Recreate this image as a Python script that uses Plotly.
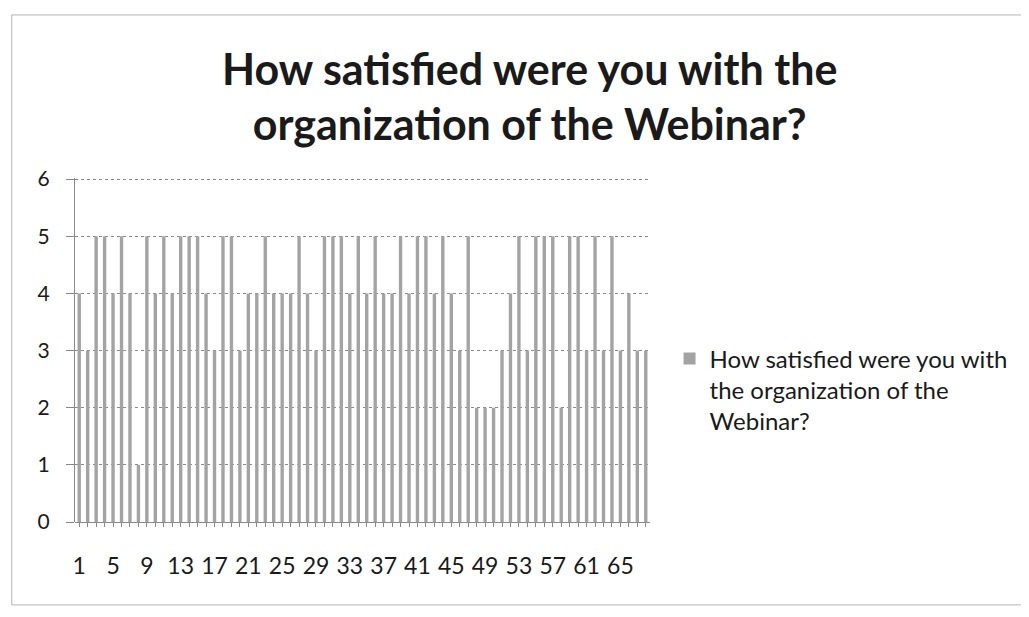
import plotly.graph_objects as go

categories = list(range(1, 69))
values = [4, 3, 5, 5, 4, 5, 4, 1, 5, 4, 5, 4, 5, 5, 5, 4, 3, 5, 5, 3,
          4, 4, 5, 4, 4, 4, 5, 4, 3, 5, 5, 5, 4, 5, 4, 5, 4, 4, 5, 4,
          5, 5, 4, 5, 4, 3, 5, 2, 2, 2, 3, 4, 5, 3, 5, 5, 5, 2, 5, 5,
          3, 5, 3, 5, 3, 4, 3, 3]
x_tick_labels = [str(c) if (c - 1) % 4 == 0 else "" for c in categories]
y_ticks = [0, 1, 2, 3, 4, 5, 6]
series_name = "How satisfied were you with<br>the organization of the<br>Webinar?"
title_text = "How satisfied were you with the<br>organization of the Webinar?"

FONT = "Lato, 'Open Sans', sans-serif"

fig = go.Figure()
fig.add_trace(go.Bar(
    x=categories,
    y=values,
    name=series_name,
    marker=dict(color="#a3a3a3", line=dict(width=0)),
    showlegend=True,
))

fig.update_layout(
    width=1029,
    height=617,
    paper_bgcolor="white",
    plot_bgcolor="white",
    margin=dict(l=67, r=387, t=170, b=103),
    bargap=0.6,
    font=dict(family=FONT, color="#1a1a1a"),
    title=dict(
        text="<b>" + title_text + "</b>",
        x=0.507, xanchor="center",
        y=0.876, yanchor="middle",
        font=dict(size=43, family=FONT, color="#1a1a1a"),
    ),
    legend=dict(
        x=1.034, xanchor="left",
        y=0.384, yanchor="middle",
        valign="top",
        font=dict(size=24, family=FONT, color="#1a1a1a"),
        bgcolor="rgba(0,0,0,0)",
        itemwidth=30,
    ),
    xaxis=dict(
        tickmode="array",
        tickvals=categories,
        ticktext=x_tick_labels,
        ticks="outside",
        ticklen=4,
        tickcolor="#888",
        tickfont=dict(size=23, family=FONT, color="#1a1a1a"),
        ticklabelstandoff=19,
        showgrid=False,
        showline=False,
        zeroline=False,
        range=[0.5, 68.5],
    ),
    yaxis=dict(
        range=[0, 6.02],
        tickmode="array",
        tickvals=y_ticks,
        ticks="outside",
        ticklen=8,
        tickcolor="#888",
        tickfont=dict(size=21, family=FONT, color="#1a1a1a"),
        ticklabelstandoff=12,
        showgrid=True,
        gridcolor="#8a8a8a",
        gridwidth=1,
        griddash="dot",
        showline=True,
        linecolor="#8a8a8a",
        linewidth=1,
        zeroline=True,
        zerolinecolor="#8a8a8a",
        zerolinewidth=1,
    ),
    shapes=[dict(
        type="rect", xref="paper", yref="paper",
        x0=-0.11, x1=1.655, y0=-0.241, y1=1.474,
        line=dict(color="#b5b5b5", width=1), fillcolor="rgba(0,0,0,0)", layer="below",
    )],
)

fig.write_html("out.html")
